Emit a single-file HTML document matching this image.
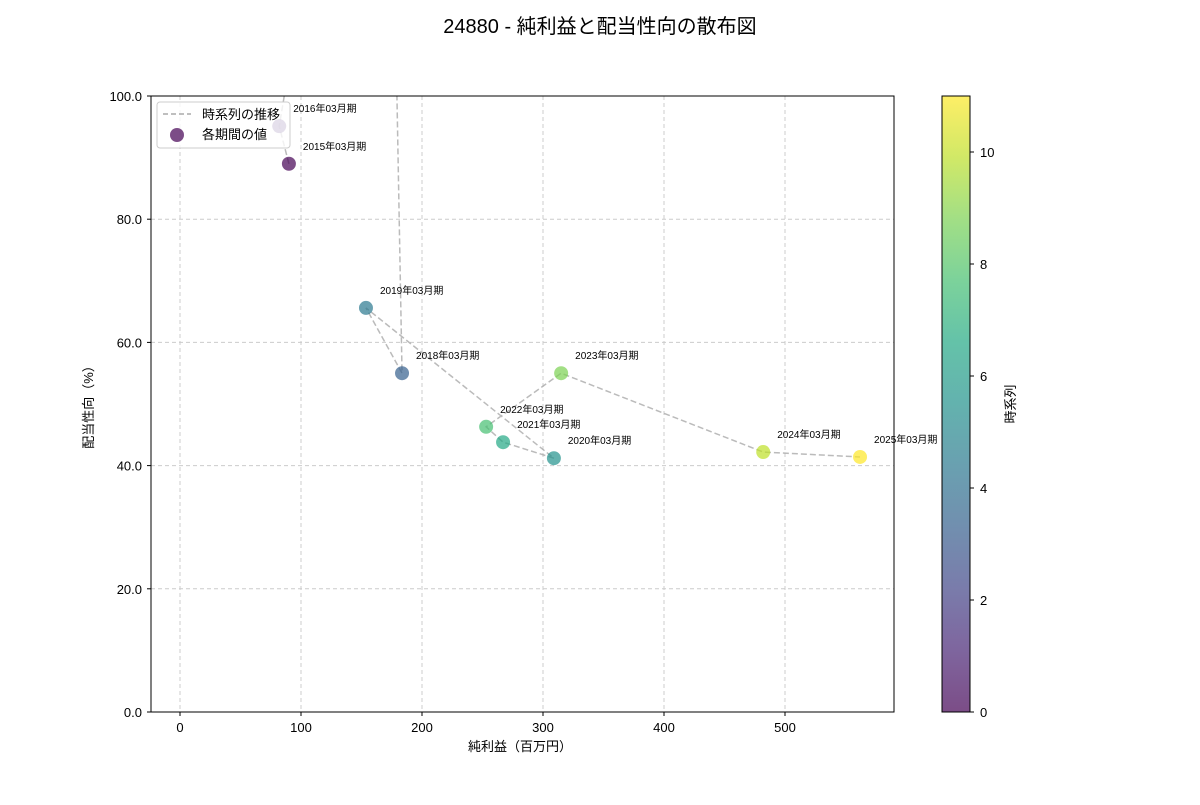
<!DOCTYPE html>
<html><head><meta charset="utf-8">
<style>
body{margin:0;background:#fff;}
svg text{font-family:"Liberation Sans","Noto Sans CJK JP",sans-serif;fill:#000;}
</style></head>
<body>
<svg id="chart" width="1200" height="800" xmlns="http://www.w3.org/2000/svg">
<defs>
<clipPath id="plotclip"><rect x="151" y="96" width="743" height="616"/></clipPath>
<linearGradient id="cbgrad" x1="0" y1="1" x2="0" y2="0">
<stop offset="0" stop-color="#440154"/><stop offset="0.1" stop-color="#482475"/><stop offset="0.2" stop-color="#414487"/><stop offset="0.3" stop-color="#355f8d"/><stop offset="0.4" stop-color="#2a788e"/><stop offset="0.5" stop-color="#21918c"/><stop offset="0.6" stop-color="#22a884"/><stop offset="0.7" stop-color="#44bf70"/><stop offset="0.8" stop-color="#7ad151"/><stop offset="0.9" stop-color="#bddf26"/><stop offset="1" stop-color="#fde725"/>
</linearGradient>
</defs>
<text x="600" y="33" font-size="20" text-anchor="middle">24880 - 純利益と配当性向の散布図</text>
<g id="grid"></g>
<g id="series" clip-path="url(#plotclip)"></g>
<rect x="151" y="96" width="743" height="616" fill="none" stroke="#000" stroke-width="1"/>
<g id="axes"></g>
<text x="520" y="751" font-size="13" text-anchor="middle">純利益（百万円）</text>
<text transform="translate(93,404) rotate(-90)" font-size="13" text-anchor="middle">配当性向（%）</text>
<g>
<rect x="157" y="102" width="133" height="46" rx="3" fill="#fff" fill-opacity="0.8" stroke="#ccc"/>
<line x1="163" y1="114" x2="191" y2="114" stroke="#aaa" stroke-width="1.5" stroke-dasharray="5,3"/>
<text x="202" y="119" font-size="13">時系列の推移</text>
<circle cx="177" cy="135" r="7" fill="#440154" fill-opacity="0.7"/>
<text x="202" y="139" font-size="13">各期間の値</text>
</g>
<rect x="942" y="96" width="28" height="616" fill="url(#cbgrad)" fill-opacity="0.7" stroke="#000" stroke-width="1"/>
<g id="cbaxis"></g>
<text transform="translate(1015,404) rotate(-90)" font-size="13" text-anchor="middle">時系列</text>
</svg>
<script>
const periods = ["2015年03月期","2016年03月期","2017年03月期","2018年03月期","2019年03月期","2020年03月期","2021年03月期","2022年03月期","2023年03月期","2024年03月期","2025年03月期"];
const netIncome = [90, 82, 170, 183.5, 153.7, 309, 267, 253, 315, 482, 562];
const payoutRatio = [89.0, 95.1, 199, 55.0, 65.6, 41.2, 43.8, 46.3, 55.0, 42.2, 41.4];
const timeIndex = [0,1,2,3,4,5,6,7,8,9,10];
const xTicks = [0,100,200,300,400,500];
const yTicks = [0,20,40,60,80,100];
const cbTicks = [0,2,4,6,8,10];

const NS="http://www.w3.org/2000/svg";
const X0=180, XS=1.21, Y0=712, YS=6.16;
const xs=v=>X0+v*XS, ys=v=>Y0-v*YS;
const cbScale=v=>712-v*(616/11);
const vir=["#440154","#482475","#414487","#355f8d","#2a788e","#21918c","#22a884","#44bf70","#7ad151","#bddf26","#fde725"];
function hex(h){return [1,3,5].map(i=>parseInt(h.substr(i,2),16));}
function viridis(t){t=Math.max(0,Math.min(1,t));const p=t*10,i=Math.min(9,Math.floor(p)),f=p-i;const a=hex(vir[i]),b=hex(vir[i+1]);return "rgb("+a.map((c,k)=>Math.round(c+(b[k]-c)*f)).join(",")+")";}
function mk(tag,attrs,parent){const e=document.createElementNS(NS,tag);for(const k in attrs)e.setAttribute(k,attrs[k]);parent.appendChild(e);return e;}
const grid=document.getElementById('grid'),axes=document.getElementById('axes'),series=document.getElementById('series'),cb=document.getElementById('cbaxis');
xTicks.forEach(v=>{
 const g=mk('line',{x1:xs(v),x2:xs(v),y1:96,y2:712,stroke:'#ccc','stroke-dasharray':'4,3'},grid);
 
 
 const t=mk('line',{x1:xs(v),x2:xs(v),y1:712,y2:716,stroke:'#000'},axes);
 
 
 const l=mk('text',{x:xs(v),y:732,'font-size':13,'text-anchor':'middle'},axes);l.textContent=v;
 
 
});
yTicks.forEach(v=>{
 const g=mk('line',{x1:151,x2:894,y1:ys(v),y2:ys(v),stroke:'#ccc','stroke-dasharray':'4,3'},grid);
 
 
 const t=mk('line',{x1:147,x2:151,y1:ys(v),y2:ys(v),stroke:'#000'},axes);
 
 
 const l=mk('text',{x:142,y:ys(v)+5,'font-size':13,'text-anchor':'end'},axes);l.textContent=v.toFixed(1);
 
 
});
cbTicks.forEach(v=>{
 const t=mk('line',{x1:970,x2:974,y1:cbScale(v),y2:cbScale(v),stroke:'#000'},cb);
 
 
 const l=mk('text',{x:980,y:cbScale(v)+5,'font-size':13},cb);l.textContent=v;
 
 
});
const pts=netIncome.map((v,i)=>xs(v)+","+ys(payoutRatio[i])).join(" ");
const pl=mk('polyline',{points:pts,fill:'none',stroke:'#aaa','stroke-width':1.5,'stroke-dasharray':'6,3','stroke-opacity':0.8},series);


const maxI=Math.max(...timeIndex);
netIncome.forEach((v,i)=>{
 const c=mk('circle',{cx:xs(v),cy:ys(payoutRatio[i]),r:7,fill:viridis(timeIndex[i]/maxI),'fill-opacity':0.7},series);
 
 
});
const svg=document.getElementById('chart');
netIncome.forEach((v,i)=>{
 const l=mk('text',{x:xs(v)+14,y:ys(payoutRatio[i])-14,'font-size':10},svg);l.textContent=periods[i];
 
 
});
</script>
</body></html>
